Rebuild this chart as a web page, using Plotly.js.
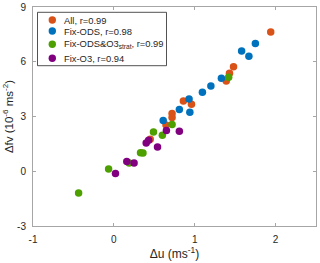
<!DOCTYPE html>
<html><head><meta charset="utf-8">
<script src="https://cdn.plot.ly/plotly-3.0.1.min.js"></script>
<style>html,body{margin:0;padding:0;background:#fff}#c{width:320px;height:263px}</style>
</head><body><div id="c"></div>
<script>
// Data
const seriesNames = ["All, r=0.99", "Fix-ODS, r=0.98", "Fix-ODS&O3<sub>strat</sub>, r=0.99", "Fix-O3, r=0.94"];
const allX = [0.45, 0.645, 0.72, 0.72, 0.86, 0.96, 1.39, 1.43, 1.48, 1.94];
const allY = [1.75, 2.54, 3.16, 2.94, 3.85, 3.67, 4.95, 5.37, 5.72, 7.63];
const odsX = [0.61, 0.81, 0.93, 0.94, 1.095, 1.20, 1.33, 1.58, 1.67, 1.75];
const odsY = [2.78, 3.38, 3.96, 3.23, 4.33, 4.67, 5.10, 6.59, 6.30, 7.00];
const odsO3X = [-0.436, -0.065, 0.19, 0.33, 0.36, 0.49, 0.60, 0.72, 1.42];
const odsO3Y = [-1.19, 0.13, 0.45, 1.02, 1.00, 2.15, 1.97, 2.56, 5.15];
const o3X = [0.02, 0.16, 0.25, 0.40, 0.43, 0.54, 0.65, 0.81];
const o3Y = [-0.13, 0.53, 0.45, 1.55, 1.70, 1.33, 2.23, 2.19];
const xTickVals = [-1, 0, 1, 2];
const xTickText = ["-1", "0", "1", "2"];
const yTickVals = [-3, 0, 3, 6, 9];
const yTickText = ["-3", "0", "3", "6", "9"];

const colors = ["#D95319", "#0072BD", "#4DA000", "#800080"];
const xs = [allX, odsX, odsO3X, o3X];
const ys = [allY, odsY, odsO3Y, o3Y];

const traces = xs.map((x, i) => ({
  x: x, y: ys[i], type: "scatter", mode: "markers", name: seriesNames[i],
  marker: {color: colors[i], size: 7.5, line: {width: 0}}, showlegend: false
}));

const W = 320, H = 263, mL = 33, mR = 4, mT = 7, mB = 37;
const pw = W - mL - mR, ph = H - mT - mB;
const px2x = p => (p - mL) / pw;
const py2y = p => (H - mB - p) / ph;

// custom compact legend
const legRowY = [20, 31, 44.3, 58.3];
const shapes = [{type: "rect", xref: "paper", yref: "paper",
  x0: px2x(37.5), x1: px2x(166.5), y0: py2y(65.7), y1: py2y(12.3),
  line: {color: "#262626", width: 0.8}, fillcolor: "#ffffff", layer: "above"}];
const annotations = [];
seriesNames.forEach((n, i) => {
  shapes.push({type: "circle", xref: "paper", yref: "paper", xsizemode: "pixel", ysizemode: "pixel",
    xanchor: px2x(52.3), yanchor: py2y(legRowY[i]), x0: -3.7, x1: 3.7, y0: -3.7, y1: 3.7,
    fillcolor: colors[i], line: {width: 0}, layer: "above"});
  annotations.push({xref: "paper", yref: "paper", x: px2x(62), y: py2y(legRowY[i]),
    xanchor: "left", yanchor: "middle", text: n, showarrow: false,
    font: {family: "Liberation Sans, Arial, sans-serif", size: 9.4, color: "#262626"}});
});

const axCommon = {
  showgrid: false, zeroline: false, showline: true, linecolor: "#a6a6a6", linewidth: 1,
  mirror: "ticks", ticks: "inside", ticklen: 3, tickcolor: "#a6a6a6",
  tickfont: {family: "Liberation Sans, Arial, sans-serif", size: 10, color: "#262626"},
  tickmode: "array"
};

const layout = {
  width: W, height: H, margin: {l: mL, r: mR, t: mT, b: mB},
  paper_bgcolor: "#fff", plot_bgcolor: "#fff",
  xaxis: Object.assign({}, axCommon, {range: [-1, 2.5], tickvals: xTickVals, ticktext: xTickText,
    ticklabelstandoff: 4,
    title: {text: "Δu (ms<sup>-1</sup>)", standoff: 3, font: {family: "Liberation Sans, Arial, sans-serif", size: 12, color: "#262626"}}}),
  yaxis: Object.assign({}, axCommon, {range: [-3, 9], tickvals: yTickVals, ticktext: yTickText,
    ticklabelstandoff: 4,
    title: {text: "Δfv (10<sup>-6</sup> ms<sup>-2</sup>)", standoff: 1, font: {family: "Liberation Sans, Arial, sans-serif", size: 11.5, color: "#262626"}}}),
  shapes: shapes, annotations: annotations, showlegend: false
};

Plotly.newPlot("c", traces, layout, {displayModeBar: false, staticPlot: true});
</script></body></html>
